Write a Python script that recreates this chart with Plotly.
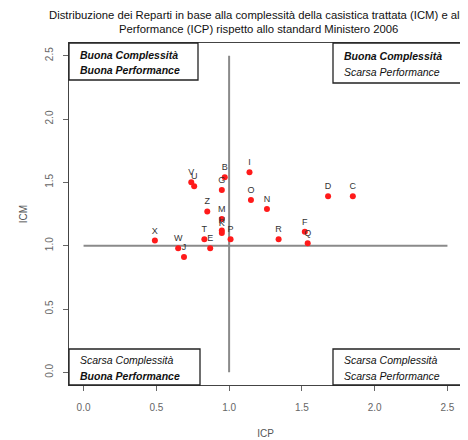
import plotly.graph_objects as go

# Data
labels = ["V", "U", "B", "G", "I", "O", "N", "D", "C", "Z", "M", "H", "K",
          "X", "W", "J", "T", "E", "P", "R", "F", "Q"]
icp = [0.74, 0.76, 0.97, 0.95, 1.14, 1.15, 1.26, 1.68, 1.85, 0.85, 0.95, 0.95, 0.95,
       0.49, 0.65, 0.69, 0.83, 0.87, 1.01, 1.34, 1.52, 1.54]
icm = [1.50, 1.47, 1.54, 1.44, 1.58, 1.36, 1.29, 1.39, 1.39, 1.27, 1.21, 1.12, 1.10,
       1.04, 0.98, 0.91, 1.05, 0.98, 1.05, 1.05, 1.11, 1.02]

ref_icp = 1.0
ref_icm = 1.0
axis_min = 0.0
axis_max = 2.5
tick_vals = [0.0, 0.5, 1.0, 1.5, 2.0, 2.5]
tick_text = ["0.0", "0.5", "1.0", "1.5", "2.0", "2.5"]

title_text = ("Distribuzione dei Reparti in base alla complessità della casistica trattata (ICM) e alla<br>"
              "Performance (ICP) rispetto allo standard Ministero 2006")

# quadrant legends: (lines, bold flags)
quad_tl = [("Buona Complessità", True), ("Buona Performance", True)]
quad_tr = [("Buona Complessità", True), ("Scarsa Performance", False)]
quad_bl = [("Scarsa Complessità", False), ("Buona Performance", True)]
quad_br = [("Scarsa Complessità", False), ("Scarsa Performance", False)]

FONT = "Liberation Sans, Arial, sans-serif"
fig = go.Figure()

# reference lines
fig.add_trace(go.Scatter(x=[axis_min, axis_max], y=[ref_icm, ref_icm], mode="lines",
                         line=dict(color="#8a8a8a", width=2), hoverinfo="skip", showlegend=False))
fig.add_trace(go.Scatter(x=[ref_icp, ref_icp], y=[axis_min, axis_max], mode="lines",
                         line=dict(color="#8a8a8a", width=2), hoverinfo="skip", showlegend=False))

# points
fig.add_trace(go.Scatter(x=icp, y=icm, mode="markers+text", text=labels,
                         textposition="top center",
                         textfont=dict(family=FONT, size=9, color="#333333"),
                         marker=dict(color="#ff1a1a", size=6, line=dict(width=0)),
                         showlegend=False))

# quadrant boxes (in axis-domain coordinates)
def add_box(x0, x1, y0, y1, lines, ylines):
    fig.add_shape(type="rect", xref="x domain", yref="y domain", x0=x0, x1=x1, y0=y0, y1=y1,
                  line=dict(color="#222222", width=1.3), fillcolor="white", layer="above")
    for (txt, bold), yy in zip(lines, ylines):
        t = f"<b><i>{txt}</i></b>" if bold else f"<i>{txt}</i>"
        fig.add_annotation(xref="x domain", yref="y domain", x=x0 + 0.022, y=yy, text=t,
                           showarrow=False, xanchor="left", yanchor="middle",
                           font=dict(family=FONT, size=10.5, color="#111111"))

plot_w = 462 - 69
plot_h = 385 - 43
def dx(px):
    return (px - 69) / plot_w
def dy(py):
    return (385 - py) / plot_h

add_box(0, dx(198), dy(80), 1, quad_tl, [dy(55), dy(70)])
add_box(dx(333), 1, dy(83), 1, quad_tr, [dy(56), dy(72)])
add_box(0, dx(200), 0, dy(349), quad_bl, [dy(360), dy(376)])
add_box(dx(333), 1, 0, dy(349), quad_br, [dy(360), dy(376)])

axis_common = dict(range=[-0.1, 2.6], tickvals=tick_vals, ticktext=tick_text,
                   showgrid=False, zeroline=False, showline=True, mirror=True,
                   linecolor="#444444", linewidth=1.2, ticks="outside", ticklen=5,
                   tickcolor="#666666", automargin=False,
                   tickfont=dict(family=FONT, size=10, color="#666666"))

# the page body has an 8px default margin, so the figure is sized to fit the window
fig.update_layout(
    width=460, height=432,
    margin=dict(l=61, r=6, t=35, b=55, autoexpand=False),
    paper_bgcolor="white", plot_bgcolor="white",
    title=dict(text=title_text, x=0.545, xanchor="center", y=0.975, yanchor="top",
               font=dict(family=FONT, size=11.3, color="#111111")),
    xaxis=dict(**axis_common, ticklabelstandoff=8,
               title=dict(text="ICP", standoff=17,
                          font=dict(family=FONT, size=10, color="#555555"))),
    yaxis=dict(**axis_common, tickangle=-90, ticklabelstandoff=6,
               title=dict(text="ICM", standoff=14, font=dict(family=FONT, size=10, color="#555555"))),
)

fig.write_html("out.html")
